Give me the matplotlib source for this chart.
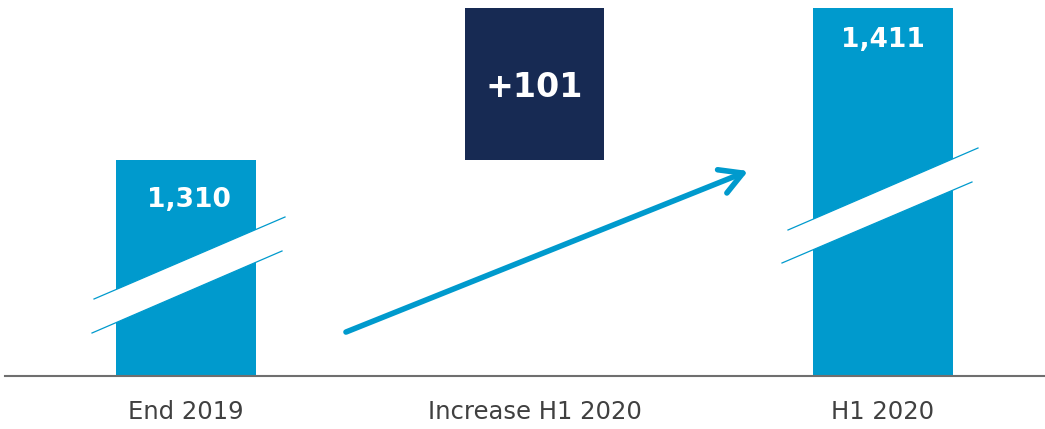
import matplotlib.pyplot as plt
from matplotlib.patches import Polygon

categories = ['End 2019', 'Increase H1 2020', 'H1 2020']
start_value = 1310
increase = 101
end_value = 1411
value_labels = ['1,310', '+101', '1,411']

blue = '#009ACD'
navy = '#172A53'

fig = plt.figure(figsize=(10.45, 4.29), dpi=100)
ax = fig.add_axes([5 / 1045, 53 / 429, 1040 / 1045, 376 / 429])

x = range(len(categories))
# waterfall: totals from the (broken) axis, the increase floats on top
ax.bar(0, start_value, width=0.40, color=blue, zorder=2)
ax.bar(1, increase, bottom=start_value, width=0.40, color=navy, zorder=2)
ax.bar(2, end_value, width=0.40, color=blue, zorder=2)

ax.set_xlim(-0.5194, 2.4649)
ax.set_ylim(1166.5, 1416.3)
ax.set_xticks(list(x))
ax.set_xticklabels(categories, fontsize=17.5, color='#404040')
ax.tick_params(axis='x', length=0, pad=17)
ax.set_yticks([])
for s in ['top', 'left', 'right']:
    ax.spines[s].set_visible(False)
ax.spines['bottom'].set_color('#6f6f6f')
ax.spines['bottom'].set_linewidth(1.5)

# value labels
ax.annotate(value_labels[0], (0, start_value), xytext=(2, -29), textcoords='offset points',
            ha='center', va='center', color='white', fontsize=19, fontweight='heavy', zorder=5)
ax.text(1, start_value + increase / 2 - 2, value_labels[1], ha='center', va='center',
        color='white', fontsize=24, fontweight='heavy', zorder=5)
ax.annotate(value_labels[2], (2, end_value), xytext=(0, -23), textcoords='offset points',
            ha='center', va='center', color='white', fontsize=19, fontweight='heavy', zorder=5)

# axis-break marks (pixel offsets from bar centre at the baseline)
fig.canvas.draw()
inv = ax.transData.inverted()


def draw_break(xc, upper, lower):
    bx, by = ax.transData.transform((xc, ax.get_ylim()[0]))
    up = [inv.transform((bx + dx, by + dy)) for dx, dy in upper]
    lo = [inv.transform((bx + dx, by + dy)) for dx, dy in lower]
    ax.add_patch(Polygon([up[0], up[1], lo[1], lo[0]], closed=True, facecolor='white',
                         edgecolor='none', zorder=3))
    for seg in (up, lo):
        ax.plot([seg[0][0], seg[1][0]], [seg[0][1], seg[1][1]], color=blue, lw=0.9, zorder=4)


draw_break(0, [(-92, 77), (99, 159)], [(-94, 43), (96, 125)])
draw_break(2, [(-95, 146), (95, 228)], [(-101, 113), (89, 194)])

# growth arrow
ax.annotate('', xy=(1.613, 1302.7), xytext=(0.459, 1195.7),
            arrowprops=dict(arrowstyle='->,head_length=1.6,head_width=0.9', color=blue,
                            lw=4, shrinkA=0, shrinkB=0), zorder=4)

fig.savefig('out.png', dpi=100)
